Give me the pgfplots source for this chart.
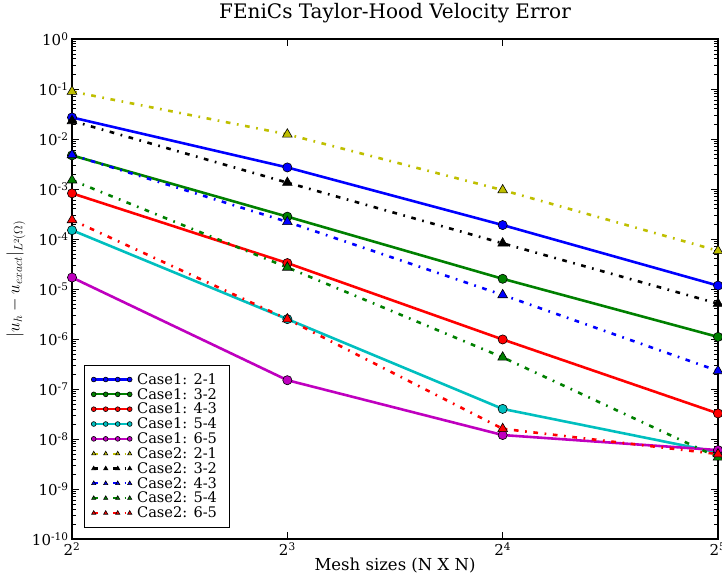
\documentclass[border=0pt]{standalone}
\usepackage{fontspec}
\setmainfont{DejaVu Serif}
\usepackage{pgfplots}
\pgfplotsset{compat=1.18}
\usetikzlibrary{calc}
\definecolor{mb}{rgb}{0,0,1}
\definecolor{mg}{rgb}{0,0.5,0}
\definecolor{mr}{rgb}{1,0,0}
\definecolor{mc}{rgb}{0,0.75,0.75}
\definecolor{mm}{rgb}{0.75,0,0.75}
\definecolor{my}{rgb}{0.75,0.75,0}
\pgfplotsset{
  caseone/.style={color=#1, line width=2.6pt, solid, mark=*, mark size=4.6pt,
    mark options={solid, fill=#1, draw=black, line width=0.6pt}},
  casetwo/.style={color=#1, line width=2.6pt, dash pattern=on 4.7pt off 6.6pt on 1.7pt off 6.6pt, mark=triangle*, mark size=5.6pt,
    mark options={solid, fill=#1, draw=black, line width=0.6pt}},
}
\begin{document}
\begin{tikzpicture}
\begin{axis}[
  scale only axis, width=646pt, height=500pt,
  xmode=log, ymode=log, log basis x=2,
  xmin=4, xmax=32, ymin=1e-10, ymax=1,
  xtick={4,8,16,32},
  xticklabels={2\textsuperscript{2},2\textsuperscript{3},2\textsuperscript{4},2\textsuperscript{5}},
  ytick={1e-10,1e-9,1e-8,1e-7,1e-6,1e-5,1e-4,1e-3,1e-2,1e-1,1},
  yticklabels={10\textsuperscript{-10},10\textsuperscript{-9},10\textsuperscript{-8},10\textsuperscript{-7},10\textsuperscript{-6},10\textsuperscript{-5},10\textsuperscript{-4},10\textsuperscript{-3},10\textsuperscript{-2},10\textsuperscript{-1},10\textsuperscript{0}},
  ticklabel style={font=\fontsize{15}{17}\selectfont},
  major tick length=7pt, minor tick length=4pt,
  tick style={black, line width=0.8pt},
  axis line style={line width=1.6pt},
  title={FEniCs Taylor-Hood Velocity Error},
  title style={font=\fontsize{20}{22}\selectfont, at={(rel axis cs:0.5,1)}, anchor=base, yshift=14pt},
  xlabel={Mesh sizes (N X N)},
  xlabel style={font=\fontsize{16.5}{18}\selectfont, at={(rel axis cs:0.5,0)}, anchor=center, yshift=-27pt},
  ylabel={$|u_h - u_{exact}|_{L^2(\Omega)}$},
  ylabel style={font=\fontsize{17}{19}\selectfont, at={(rel axis cs:-0.0867,0.52)}, anchor=center},
  legend cell align=left,
  legend style={at={(rel axis cs:0.0186,0.022)}, anchor=south west, draw=black, line width=0.6pt,
    font=\fontsize{14.6}{15}\selectfont, row sep=-1.5pt, inner xsep=7pt, inner ysep=6.5pt,
    nodes={inner xsep=5pt}},
  legend image code/.code={\draw[mark repeat=1,#1,mark size=2.4pt,line width=2.2pt] plot coordinates {(0pt,0pt) (12pt,0pt) (24pt,0pt) (36pt,0pt)};},
  clip=false,
]
\addplot[caseone=mb] coordinates {(4,0.027) (8,0.0027) (16,1.9e-4) (32,1.17e-5)};
\addlegendentry{Case1: 2-1}
\addplot[caseone=mg] coordinates {(4,0.0047) (8,2.8e-4) (16,1.6e-5) (32,1.1e-6)};
\addlegendentry{Case1: 3-2}
\addplot[caseone=mr] coordinates {(4,8.2e-4) (8,3.3e-5) (16,9.8e-7) (32,3.25e-8)};
\addlegendentry{Case1: 4-3}
\addplot[caseone=mc] coordinates {(4,1.5e-4) (8,2.5e-6) (16,4.0e-8) (32,5.4e-9)};
\addlegendentry{Case1: 5-4}
\addplot[caseone=mm] coordinates {(4,1.7e-5) (8,1.5e-7) (16,1.2e-8) (32,6.0e-9)};
\addlegendentry{Case1: 6-5}
\addplot[casetwo=my] coordinates {(4,0.089) (8,0.0124) (16,9.5e-4) (32,5.8e-5)};
\addlegendentry{Case2: 2-1}
\addplot[casetwo=black] coordinates {(4,0.023) (8,0.00134) (16,8.2e-5) (32,5.1e-6)};
\addlegendentry{Case2: 3-2}
\addplot[casetwo=mb] coordinates {(4,0.0048) (8,2.2e-4) (16,7.6e-6) (32,2.3e-7)};
\addlegendentry{Case2: 4-3}
\addplot[casetwo=mg] coordinates {(4,0.0015) (8,2.7e-5) (16,4.3e-7) (32,4.3e-9)};
\addlegendentry{Case2: 5-4}
\addplot[casetwo=mr] coordinates {(4,2.4e-4) (8,2.5e-6) (16,1.6e-8) (32,5.0e-9)};
\addlegendentry{Case2: 6-5}
\coordinate (bl) at (rel axis cs:0,0);
\coordinate (tr) at (rel axis cs:1,1);
\end{axis}
\pgfresetboundingbox
\path[use as bounding box] ($(bl)+(-72pt,-36pt)$) rectangle ($(tr)+(4pt,39pt)$);
\end{tikzpicture}
\end{document}
